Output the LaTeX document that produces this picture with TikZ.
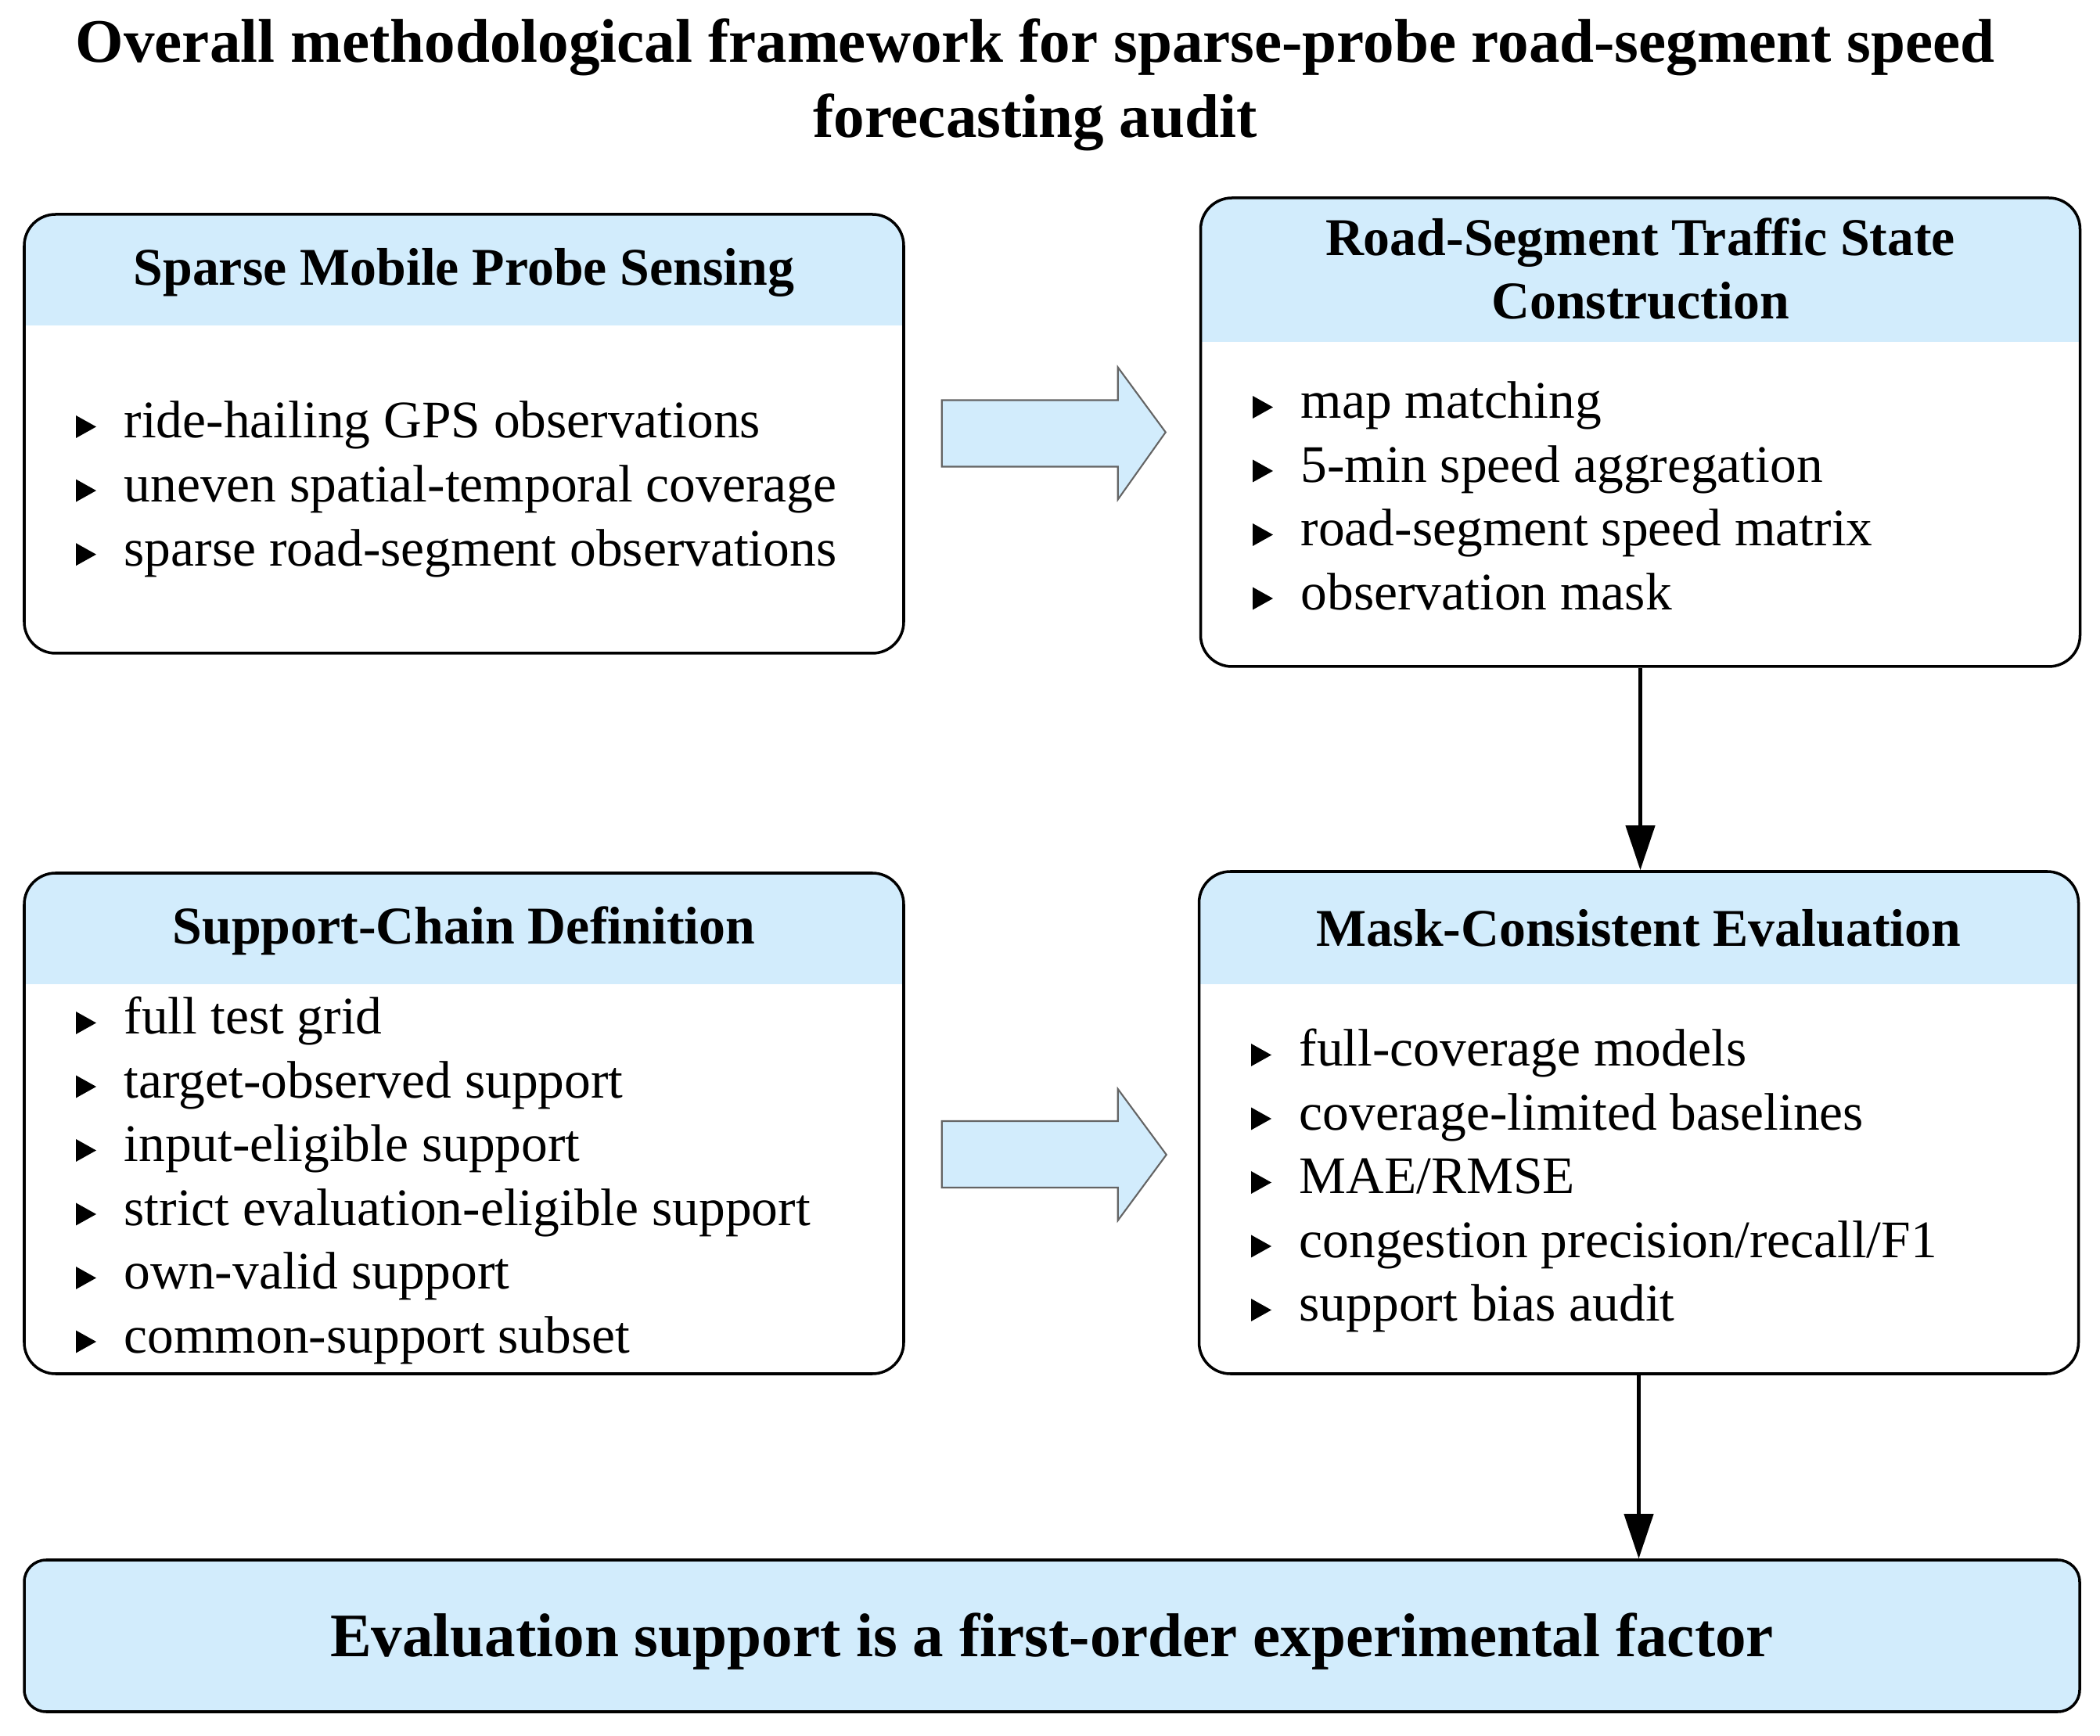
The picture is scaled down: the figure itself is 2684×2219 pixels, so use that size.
\documentclass[tikz,border=0pt]{standalone}
\usepackage{fontspec}
\setmainfont{Liberation Serif}
\usetikzlibrary{calc,arrows.meta}
\definecolor{headblue}{RGB}{210,236,252}
\definecolor{arrowgray}{RGB}{100,100,100}

\begin{document}
\begin{tikzpicture}[x=0.1mm,y=-0.1mm]
\tikzset{
  panel/.style={draw, line width=1pt, rounded corners=4mm, minimum width=112.4mm,
    path picture={\fill[headblue, sharp corners] (path picture bounding box.north west)
      rectangle ([yshift=-#1]path picture bounding box.north east);}},
  titletext/.style={anchor=base, inner sep=0pt, font=\fontsize{22.5}{27}\selectfont\bfseries},
  head/.style={anchor=base, inner sep=0pt, font=\fontsize{19.3}{23}\selectfont\bfseries},
  item/.style={anchor=base west, inner sep=0pt, font=\fontsize{19.2}{23}\selectfont},
  concl/.style={draw, fill=headblue, line width=1pt, rounded corners=2.8mm,
    minimum width=262.7mm, minimum height=19.4mm, inner sep=0pt,
    text height=14.9pt, text depth=0pt, font=\fontsize{22.5}{27}\selectfont\bfseries},
  flow/.style={line width=1.2pt, -{Triangle[length=5.7mm, width=3.7mm]}},
  bigarrow/.style={fill=headblue, draw=arrowgray, line width=0.6pt}
}
\useasboundingbox (0,0) rectangle (2684,2219);

% title
\node[titletext] (title1) at (1323,80) {Overall methodological framework for sparse-probe road-segment speed};
\node[titletext] (title2) at (1323,176) {forecasting audit};

% panels
\node[panel=14.2mm, minimum height=56.1mm] (sense) at (593,554.5) {};
\node[panel=18.4mm, minimum height=59.9mm] (road) at (2096.5,552.5) {};
\node[panel=14.2mm, minimum height=64mm] (chain) at (593,1436) {};
\node[panel=14.4mm, minimum height=64.2mm] (eval) at (2094.5,1435) {};

\node[head] (sense-h) at (593,365) {Sparse Mobile Probe Sensing};
\node[head] (road-h1) at (2096.5,327) {Road-Segment Traffic State};
\node[head] (road-h2) at (2096.5,408) {Construction};
\node[head] (chain-h) at (593,1207) {Support-Chain Definition};
\node[head] (eval-h) at (2094.5,1210) {Mask-Consistent Evaluation};

% bullet lists
\foreach \txt [count=\i from 0] in {ride-hailing GPS observations, uneven spatial-temporal coverage, sparse road-segment observations} {
  \node[item] (sense-\i) at (158,560+81.6*\i) {\txt};
  \fill ($(sense-\i.base west)+(-61,0)$) -- ++(0,-29) -- ++(26,14.5) -- cycle;
}
\foreach \txt [count=\i from 0] in {map matching, 5-min speed aggregation, road-segment speed matrix, observation mask} {
  \node[item] (road-\i) at (1662,535+81.5*\i) {\txt};
  \fill ($(road-\i.base west)+(-61,0)$) -- ++(0,-29) -- ++(26,14.5) -- cycle;
}
\foreach \txt [count=\i from 0] in {full test grid, target-observed support, input-eligible support, strict evaluation-eligible support, own-valid support, common-support subset} {
  \node[item] (chain-\i) at (158,1322+81.5*\i) {\txt};
  \fill ($(chain-\i.base west)+(-61,0)$) -- ++(0,-29) -- ++(26,14.5) -- cycle;
}
\foreach \txt [count=\i from 0] in {full-coverage models, coverage-limited baselines, MAE/RMSE, congestion precision/recall/F1, support bias audit} {
  \node[item] (eval-\i) at (1660,1363+81.5*\i) {\txt};
  \fill ($(eval-\i.base west)+(-61,0)$) -- ++(0,-29) -- ++(26,14.5) -- cycle;
}

\node[concl] (concl) at (1344.5,2091) {Evaluation support is a first-order experimental factor};

% arrows
\draw[bigarrow] ($(sense.east)+(47,-43)$) -- ++(225,0) -- ++(0,-42) -- ($(road.west)+(-43,0)$)
  -- ($(sense.east)+(272,84)$) -- ++(0,-42) -- ++(-225,0) -- cycle;
\draw[bigarrow] ($(chain.east)+(47,-3)$) -- ++(225,0) -- ++(0,-41) -- ($(eval.west)+(-40,41)$)
  -- ($(chain.east)+(272,124)$) -- ++(0,-42) -- ++(-225,0) -- cycle;
\draw[flow] (road.south) -- (road.south |- eval.north);
\draw[flow] (eval.south) -- (eval.south |- concl.north);
\end{tikzpicture}
\end{document}
